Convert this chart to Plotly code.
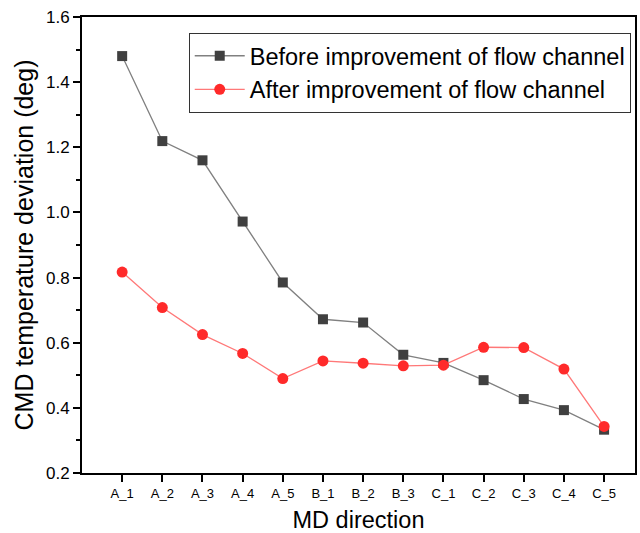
import plotly.graph_objects as go

categories = ["A_1", "A_2", "A_3", "A_4", "A_5", "B_1", "B_2", "B_3",
              "C_1", "C_2", "C_3", "C_4", "C_5"]
before = [1.48, 1.219, 1.16, 0.972, 0.785, 0.672, 0.662, 0.563,
          0.538, 0.485, 0.427, 0.393, 0.333]
after = [0.817, 0.708, 0.625, 0.567, 0.49, 0.544, 0.537, 0.529,
         0.531, 0.586, 0.585, 0.519, 0.343]

font = "Liberation Sans, Arial, sans-serif"

fig = go.Figure()
fig.add_trace(go.Scatter(
    x=categories, y=before, mode="lines+markers",
    name="Before improvement of flow channel",
    line=dict(color="#808080", width=1.3),
    marker=dict(symbol="square", size=10, color="#404040"),
))
fig.add_trace(go.Scatter(
    x=categories, y=after, mode="lines+markers",
    name="After improvement of flow channel",
    line=dict(color="#FF7878", width=1.3),
    marker=dict(symbol="circle", size=11, color="#FF2A2A"),
))

fig.update_layout(
    width=640, height=533,
    margin=dict(l=82, r=3, t=17, b=60),
    paper_bgcolor="white", plot_bgcolor="white",
    font=dict(family=font, color="black"),
    showlegend=True,
    legend=dict(
        x=0.193, y=0.965, xanchor="left", yanchor="top",
        bgcolor="white", bordercolor="#333333", borderwidth=1,
        font=dict(size=23.5, family=font),
        itemwidth=50, tracegroupgap=0,
    ),
    xaxis=dict(
        type="category", categoryorder="array", categoryarray=categories,
        range=[-1, 12.77],
        showline=True, linecolor="black", linewidth=2, mirror=True,
        ticks="outside", ticklen=7, tickwidth=2, tickcolor="black",
        tickfont=dict(size=13, family=font),
        showgrid=False, zeroline=False,
        title=dict(text="MD direction", font=dict(size=23.5, family=font), standoff=12),
    ),
    yaxis=dict(
        range=[0.2, 1.6],
        tickvals=[0.2, 0.4, 0.6, 0.8, 1.0, 1.2, 1.4, 1.6],
        ticktext=["0.2", "0.4", "0.6", "0.8", "1.0", "1.2", "1.4", "1.6"],
        showline=True, linecolor="black", linewidth=2, mirror=True,
        ticks="outside", ticklen=7, tickwidth=2, tickcolor="black",
        minor=dict(tickvals=[0.3, 0.5, 0.7, 0.9, 1.1, 1.3, 1.5],
                   ticks="outside", ticklen=4, tickwidth=1.5, tickcolor="black"),
        tickfont=dict(size=17, family=font),
        showgrid=False, zeroline=False,
        title=dict(text="CMD temperature deviation (deg)", font=dict(size=25, family=font), standoff=5),
    ),
)

fig.write_html("out.html")
